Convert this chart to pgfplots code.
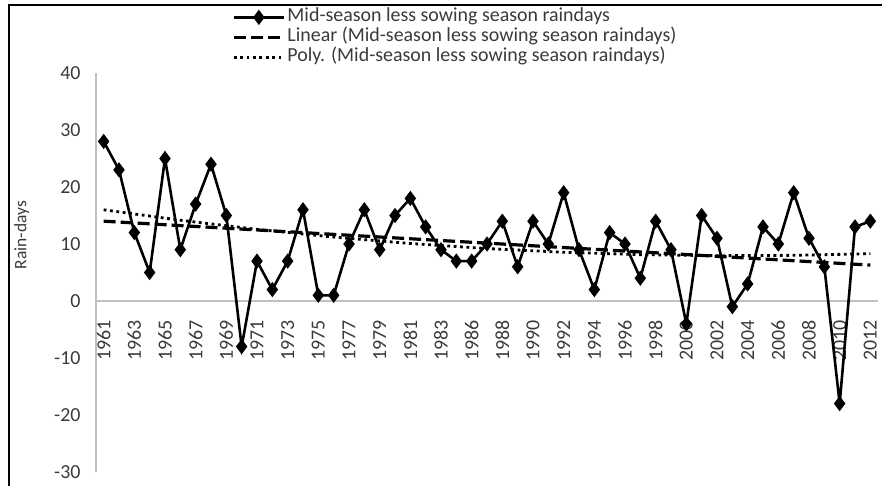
\documentclass[border=0pt]{standalone}
\usepackage{pgfplots}
\pgfplotsset{compat=1.18}
\usepackage{fontspec}
\setmainfont{Carlito}
\definecolor{axgray}{HTML}{C0C0C0}
\definecolor{txtgray}{HTML}{3A3A3A}
\begin{document}
\begin{tikzpicture}
\path[use as bounding box] (-96bp,-14bp) rectangle (786bp,472bp);
\begin{axis}[
  scale only axis,
  width=782bp, height=399bp,
  xmin=-0.5, xmax=50.5,
  ymin=-30, ymax=40,
  axis x line=middle,
  axis y line=left,
  axis line style={-, draw=axgray, line width=1.3bp},
  hide obscured x ticks=false,
  hide obscured y ticks=false,
  major tick length=0pt,
  ytick={-30,-20,...,40},
  xtick={0,2,...,50},
  xticklabels={1961,1963,1965,1967,1969,1971,1973,1975,1977,1979,1981,1983,1986,1988,1990,1992,1994,1996,1998,2000,2002,2004,2006,2008,2010,2012},
  /pgf/number format/assume math mode=true,
  /pgf/number format/1000 sep={},
  ticklabel style={font=\fontsize{20}{22}\selectfont, text=txtgray},
  xticklabel style={rotate=90, anchor=east, xshift=-16bp},
  yticklabel style={xshift=-12bp},
  ylabel={Rain-days},
  ylabel style={at={(axis description cs:-0.095,0.594)}, anchor=center, rotate=0, font=\fontsize{17.5}{18}\selectfont, text=txtgray},
  legend style={at={(axis description cs:0.174,1.165)}, anchor=north west, draw=none, fill=none,
    font=\fontsize{20}{20}\selectfont, row sep=0pt, inner sep=0pt, text=txtgray,
    nodes={text height=14bp, text depth=5bp, inner ysep=0.5bp, inner xsep=2bp}},
  legend cell align=left,
  legend image code/.code={\draw[mark repeat=2,mark phase=2,#1] plot coordinates {(0bp,0bp) (25bp,0bp) (50bp,0bp)};},
  clip=false,
]
\addplot[black, line width=2.6bp, mark=diamond*, mark size=5.5bp, mark options={solid, fill=black}] coordinates {
(0,28) (1,23) (2,12) (3,5) (4,25) (5,9) (6,17) (7,24) (8,15) (9,-8)
(10,7) (11,2) (12,7) (13,16) (14,1) (15,1) (16,10) (17,16) (18,9) (19,15)
(20,18) (21,13) (22,9) (23,7) (24,7) (25,10) (26,14) (27,6) (28,14) (29,10)
(30,19) (31,9) (32,2) (33,12) (34,10) (35,4) (36,14) (37,9) (38,-4) (39,15)
(40,11) (41,-1) (42,3) (43,13) (44,10) (45,19) (46,11) (47,6) (48,-18) (49,13)
(50,14)
};
\addlegendentry{Mid-season less sowing season raindays}
\addplot[black, line width=3.2bp, dash pattern=on 12bp off 5bp] coordinates {
(0,14.0) (50,6.3)
};
\addlegendentry{Linear (Mid-season less sowing season raindays)}
\addplot[black, line width=2.8bp, dash pattern=on 2.8bp off 3.6bp] coordinates {
(0,16.0) (5,14.17) (10,12.57) (15,11.21) (20,10.09) (25,9.20) (30,8.55) (35,8.13) (40,7.95) (45,8.01) (50,8.30)
};
\addlegendentry{Poly. (Mid-season less sowing season raindays)}
\end{axis}
\draw[line width=2.2bp, black] (-87bp,-14bp) -- (-87bp,467bp) -- (786bp,467bp);
\end{tikzpicture}
\end{document}
